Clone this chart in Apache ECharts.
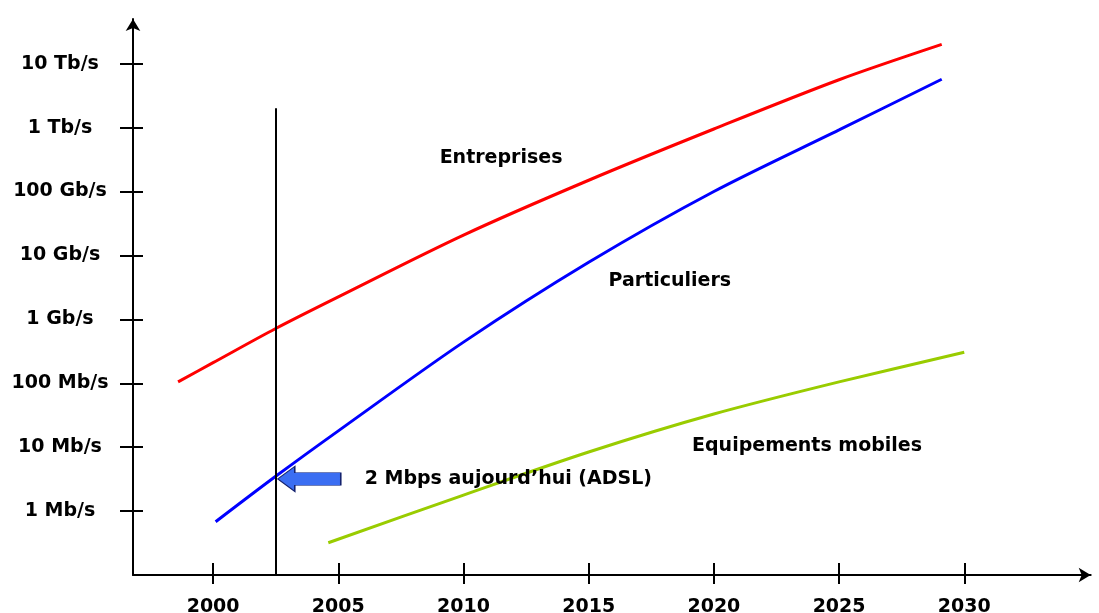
<!DOCTYPE html>
<html>
<head>
<meta charset="utf-8">
<script src="https://cdn.jsdelivr.net/npm/echarts@6/dist/echarts.min.js"></script>
<style>
html,body{margin:0;padding:0;background:#ffffff;}
#c{width:1099px;height:613px;}
</style>
</head>
<body>
<div id="c"></div>
<script>
// ---- Data (years, Mb/s) ----
const entreprisesYears = [1998.6, 2000, 2002.5, 2005, 2010, 2015, 2020, 2025, 2029.1];
const entreprisesValues = [105, 210, 720, 2250, 20800, 150000, 950000, 5600000, 20000000];

const particuliersYears = [2000.1, 2002.5, 2005, 2010, 2015, 2020, 2025, 2029.1];
const particuliersValues = [0.68, 3.5, 18, 440, 7800, 100000, 920000, 5700000];

const mobilesYears = [2004.6, 2010, 2015, 2020, 2025, 2030];
const mobilesValues = [0.32, 1.78, 8.4, 33, 105, 305];

// Tick labels
const xTickValues = [2000, 2005, 2010, 2015, 2020, 2025, 2030];
const yTickValues = [1, 10, 100, 1000, 10000, 100000, 1000000, 10000000];
const yTickLabels = ['1 Mb/s', '10 Mb/s', '100 Mb/s', '1 Gb/s', '10 Gb/s', '100 Gb/s', '1 Tb/s', '10 Tb/s'];

// Reference line "today" and annotations
const todayYear = 2002.5;
const todayLineTop = 2000000;
const annotationTexts = ['Entreprises', 'Particuliers', 'Equipements mobiles', '2 Mbps aujourd\u2019hui (ADSL)'];
const annotationYears = [2011.5, 2018.24, 2023.72, 2011.79];
const annotationValues = [330000, 4000, 10.4, 3.13];
const arrowYear = 2003.84;
const arrowValue = 3.18;

// ---- Chart ----
const FONT = 'DejaVu Sans';
const pairs = (xs, ys) => xs.map((x, i) => [x, ys[i]]);

const axisLineStyle = {color: '#000', width: 2};
const xCommon = {type: 'value', min: 1996.8, max: 2035.05, position: 'bottom', splitLine: {show: false}};
const yCommon = {type: 'log', logBase: 10, min: 0.1, max: 5e7, position: 'left', splitLine: {show: false}, minorTick: {show: false}};

const labelStyle = {color: '#000', fontFamily: FONT, fontWeight: 'bold', fontSize: 19, padding: [4, 0, 0, 0]};

const annotationPoints = annotationTexts.map((t, i) => ({
  name: t,
  coord: [annotationYears[i], annotationValues[i]],
  symbol: 'circle',
  symbolSize: 1,
  itemStyle: {color: 'rgba(0,0,0,0)'},
  label: Object.assign({show: true, position: 'inside', formatter: '{b}'}, labelStyle)
}));
annotationPoints.push({
  name: 'arrow',
  coord: [arrowYear, arrowValue],
  symbol: 'path://M0,12L17,0L17,6L63,6L63,18L17,18L17,24Z',
  symbolSize: [63, 25],
  itemStyle: {color: '#3b6ef2', borderColor: '#14226e', borderWidth: 1},
  label: {show: false}
});

const lineCommon = {type: 'line', xAxisIndex: 0, yAxisIndex: 0, smooth: 0.3, symbol: 'none'};

const option = {
  animation: false,
  backgroundColor: '#ffffff',
  grid: {left: 133, top: 19, right: 8.3, bottom: 38, containLabel: false, outerBoundsMode: 'none'},
  xAxis: [
    Object.assign({}, xCommon, {
      axisLine: {show: true, onZero: false, lineStyle: axisLineStyle, symbol: ['none', 'arrow'], symbolSize: [11, 12]},
      axisTick: {show: true, inside: false, length: 9, customValues: xTickValues, lineStyle: axisLineStyle},
      axisLabel: {show: true, customValues: xTickValues, margin: 23, color: '#000', fontFamily: FONT, fontWeight: 'bold', fontSize: 19,
                  formatter: v => String(Math.round(v))}
    }),
    Object.assign({}, xCommon, {
      axisLine: {show: false, onZero: false},
      axisTick: {show: true, inside: true, length: 12, customValues: xTickValues, lineStyle: axisLineStyle},
      axisLabel: {show: false}
    })
  ],
  yAxis: [
    Object.assign({}, yCommon, {
      axisLine: {show: true, onZero: false, lineStyle: axisLineStyle, symbol: ['none', 'arrow'], symbolSize: [11, 12]},
      axisTick: {show: true, inside: false, length: 13, customValues: yTickValues, lineStyle: axisLineStyle},
      axisLabel: Object.assign({show: true, customValues: yTickValues, margin: 73, align: 'center',
                  formatter: v => { const k = Math.round(Math.log10(v)); return (k >= 0 && k < yTickLabels.length) ? yTickLabels[k] : ''; }}, labelStyle)
    }),
    Object.assign({}, yCommon, {
      axisLine: {show: false, onZero: false},
      axisTick: {show: true, inside: true, length: 10, customValues: yTickValues, lineStyle: axisLineStyle},
      axisLabel: {show: false}
    })
  ],
  series: [
    Object.assign({}, lineCommon, {
      name: 'Entreprises',
      data: pairs(entreprisesYears, entreprisesValues),
      lineStyle: {color: '#ff0000', width: 3},
      markLine: {
        silent: true, symbol: ['none', 'none'], label: {show: false},
        lineStyle: {color: '#000', width: 2, type: 'solid'},
        data: [[{coord: [todayYear, 0.1]}, {coord: [todayYear, todayLineTop]}]]
      }
    }),
    Object.assign({}, lineCommon, {
      name: 'Particuliers',
      data: pairs(particuliersYears, particuliersValues),
      lineStyle: {color: '#0000ff', width: 3},
      markPoint: {silent: true, data: annotationPoints}
    }),
    Object.assign({}, lineCommon, {
      name: 'Equipements mobiles',
      data: pairs(mobilesYears, mobilesValues),
      lineStyle: {color: '#99cc00', width: 3}
    })
  ]
};

const chart = echarts.init(document.getElementById('c'));
chart.setOption(option);
</script>
</body>
</html>
